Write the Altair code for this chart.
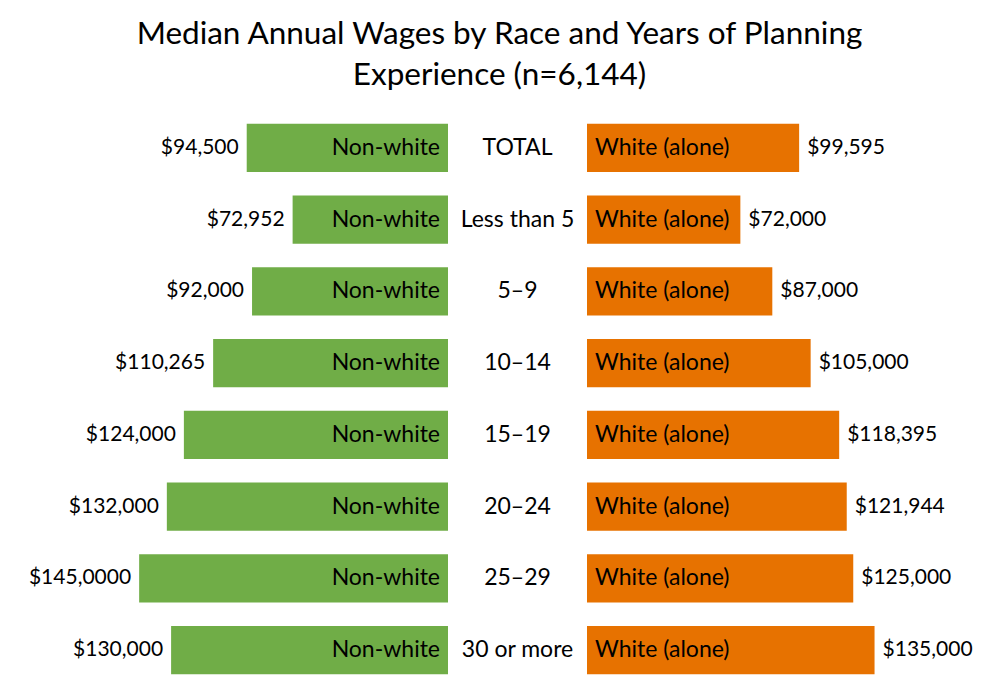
import altair as alt
import pandas as pd

categories = ["TOTAL", "Less than 5", "5–9", "10–14", "15–19", "20–24", "25–29", "30 or more"]
nonwhite = [94500, 72952, 92000, 110265, 124000, 132000, 145000, 130000]
nonwhite_labels = ["$94,500", "$72,952", "$92,000", "$110,265", "$124,000", "$132,000", "$145,0000", "$130,000"]
white = [99595, 72000, 87000, 105000, 118395, 121944, 125000, 135000]
white_labels = ["$99,595", "$72,000", "$87,000", "$105,000", "$118,395", "$121,944", "$125,000", "$135,000"]

df = pd.DataFrame({
    "cat": categories,
    "nw": nonwhite,
    "nw_label": nonwhite_labels,
    "w": white,
    "w_label": white_labels,
    "nw_name": ["Non-white"] * len(categories),
    "w_name": ["White (alone)"] * len(categories),
})

GREEN = "#70AD47"
ORANGE = "#E77200"
FONT = "Lato"
FS_VAL = 21
FS_NAME = 23
H = 574
W_LEFT = 440
W_MID = 139
W_RIGHT = 390
PX_PER = 0.00213

yenc = alt.Y("cat:N", sort=categories, axis=None,
             scale=alt.Scale(paddingInner=0.33, paddingOuter=0.165))

# Left panel
lx = alt.Scale(domain=[0, W_LEFT / PX_PER], reverse=True, nice=False, zero=True)
lbase = alt.Chart(df).encode(y=yenc)
lbars = lbase.mark_bar(color=GREEN).encode(x=alt.X("nw:Q", scale=lx, axis=None))
lvals = lbase.mark_text(align="right", dx=-8, font=FONT, fontSize=FS_VAL, color="black").encode(
    x=alt.X("nw:Q", scale=lx, axis=None), text="nw_label:N")
lnames = lbase.mark_text(align="right", dx=-8, font=FONT, fontSize=FS_NAME, color="black").encode(
    x=alt.datum(0, scale=lx), text="nw_name:N")
left = alt.layer(lbars, lvals, lnames).properties(width=W_LEFT, height=H)

# Middle panel
mid = alt.Chart(df).mark_text(align="center", font=FONT, fontSize=FS_NAME, color="black").encode(
    y=yenc, x=alt.value(W_MID / 2), text="cat:N").properties(width=W_MID, height=H)

# Right panel
rx = alt.Scale(domain=[0, W_RIGHT / PX_PER], nice=False, zero=True)
rbase = alt.Chart(df).encode(y=yenc)
rbars = rbase.mark_bar(color=ORANGE).encode(x=alt.X("w:Q", scale=rx, axis=None))
rvals = rbase.mark_text(align="left", dx=8, font=FONT, fontSize=FS_VAL, color="black").encode(
    x=alt.X("w:Q", scale=rx, axis=None), text="w_label:N")
rnames = rbase.mark_text(align="left", dx=8, font=FONT, fontSize=FS_NAME, color="black").encode(
    x=alt.datum(0, scale=rx), text="w_name:N")
right = alt.layer(rbars, rvals, rnames).properties(width=W_RIGHT, height=H)

chart = alt.hconcat(left, mid, right, spacing=0).properties(
    title=alt.TitleParams(
        ["Median Annual Wages by Race and Years of Planning", "Experience (n=6,144)"],
        font=FONT, fontSize=31.5, fontWeight="normal", color="black",
        anchor="middle", lineHeight=41, offset=21, dx=7,
    ),
    padding={"left": 0, "top": 10, "right": 0, "bottom": 0},
).configure(background="white", view=alt.ViewConfig(stroke=None))

chart.save("out.html", embed_options={"renderer": "svg", "actions": False})
